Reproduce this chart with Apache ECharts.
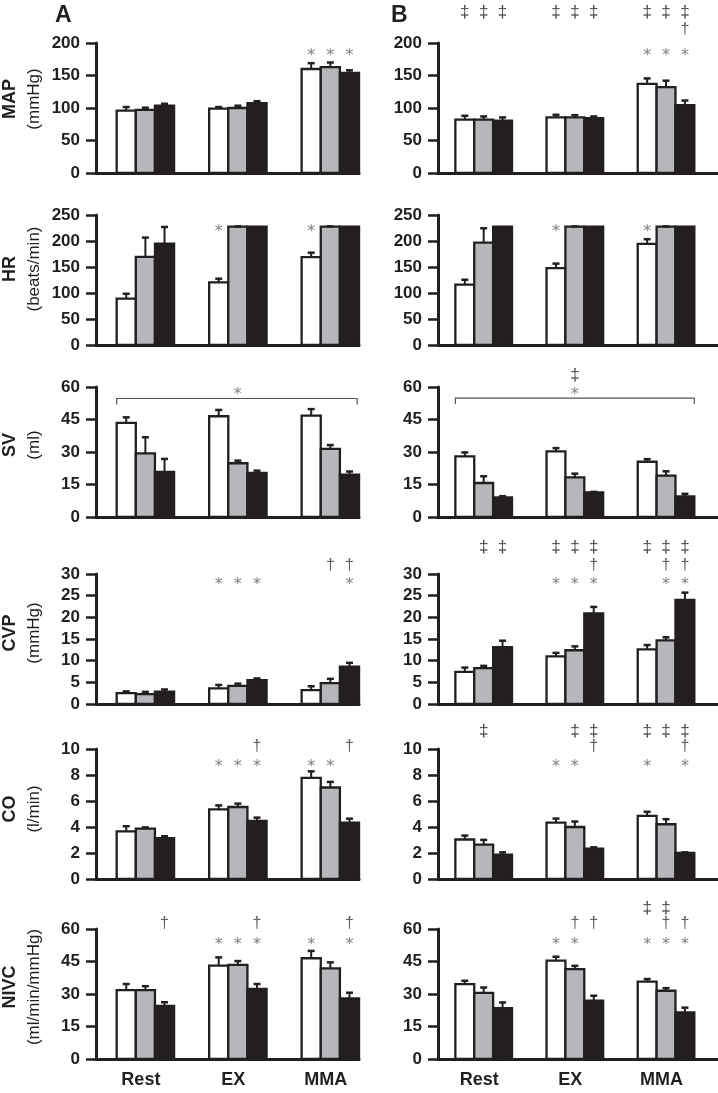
<!DOCTYPE html>
<html>
<head>
<meta charset="utf-8">
<script src="https://cdn.jsdelivr.net/npm/echarts@6/dist/echarts.min.js"></script>
<style>
  html, body { margin: 0; background: #fff; }
  #chart { width: 718px; height: 1093px; }
</style>
</head>
<body>
<div id="chart"></div>
<script>
// groups on the x axis
const categories = ['Rest', 'EX', 'MMA'];

// each table: [white, gray, black] x [Rest, EX, MMA]
const MAP_A_mean = [[96, 99, 160], [97, 100, 163], [103.5, 107.5, 154]];
const MAP_A_err = [[5.5, 2.5, 9], [3.5, 3.5, 7], [3, 3, 4]];
const MAP_A_sig = [['', '', '*'], ['', '', '*'], ['', '', '*']];
const MAP_B_mean = [[82, 85.5, 137], [82, 85.5, 132], [80.5, 84.5, 104.5]];
const MAP_B_err = [[6, 4, 8.5], [5, 3.5, 10], [5, 2.5, 7]];
const MAP_B_sig = [['‡', '‡', '*‡'], ['‡', '‡', '*‡'], ['‡', '‡', '*†‡']];

const HR_A_mean = [[89, 120.5, 169], [169.5, 227.5, 227.5], [195, 227.5, 227.5]];
const HR_A_err = [[9.5, 7, 8.5], [37, 0.5, 0.5], [32, 0, 0]];
const HR_A_sig = [['', '*', '*'], ['', '', ''], ['', '', '']];
const HR_B_mean = [[116, 148, 194.5], [197, 227.5, 227.5], [227.5, 227.5, 227.5]];
const HR_B_err = [[9.5, 8.5, 9], [27.5, 0.5, 0.5], [0, 0, 0]];
const HR_B_sig = [['', '*', '*'], ['', '', ''], ['', '', '']];

const SV_A_mean = [[43.4, 46.5, 46.8], [29.4, 24.8, 31.4], [20.8, 20.3, 19.5]];
const SV_A_err = [[2.6, 2.9, 3], [7.4, 1.2, 1.8], [6, 1.1, 1.5]];
const SV_A_sig = [['', '', ''], ['', '', ''], ['', '', '']];
const SV_B_mean = [[28, 30.3, 25.5], [15.7, 18.3, 19.1], [9.1, 11.4, 9.5]];
const SV_B_err = [[1.8, 1.5, 1.2], [3.1, 1.7, 2], [0.5, 0.2, 1.2]];
const SV_B_sig = [['', '', ''], ['', '', ''], ['', '', '']];
// bracket over all bars: [from, to, level], with its marks
const SV_A_bracket = [-0.31, 2.29, 54.7];
const SV_A_bracketSig = '*';
const SV_B_bracket = [-0.31, 2.31, 54.9];
const SV_B_bracketSig = '*‡';

const CVP_A_mean = [[2.5, 3.6, 3.2], [2.3, 4.2, 4.8], [2.85, 5.5, 8.6]];
const CVP_A_err = [[0.4, 0.8, 0.9], [0.5, 0.5, 1], [0.5, 0.4, 0.9]];
const CVP_A_sig = [['', '*', ''], ['', '*', '†'], ['', '*', '*†']];
const CVP_B_mean = [[7.4, 11, 12.6], [8.3, 12.4, 14.7], [13.1, 20.9, 24]];
const CVP_B_err = [[1, 0.8, 1], [0.5, 0.9, 0.7], [1.5, 1.5, 1.7]];
const CVP_B_sig = [['', '*‡', '‡'], ['‡', '*‡', '*†‡'], ['‡', '*†‡', '*†‡']];

const CO_A_mean = [[3.66, 5.36, 7.78], [3.87, 5.54, 7.04], [3.14, 4.46, 4.33]];
const CO_A_err = [[0.4, 0.3, 0.5], [0.1, 0.26, 0.43], [0.15, 0.26, 0.31]];
const CO_A_sig = [['', '*', '*'], ['', '*', '*'], ['', '*†', '†']];
const CO_B_mean = [[3.04, 4.34, 4.86], [2.65, 4.0, 4.21], [1.87, 2.34, 2.0]];
const CO_B_err = [[0.3, 0.31, 0.31], [0.36, 0.42, 0.39], [0.18, 0.1, 0.05]];
const CO_B_sig = [['', '*', '*‡'], ['‡', '*‡', '‡'], ['', '†‡', '*†‡']];

const NIVC_A_mean = [[31.8, 43.1, 46.5], [31.8, 43.4, 41.8], [24.5, 32.3, 28]];
const NIVC_A_err = [[2.8, 3.8, 3.4], [1.8, 1.8, 2.8], [1.7, 2.3, 2.6]];
const NIVC_A_sig = [['', '*', '*'], ['', '*', ''], ['†', '*†', '*†']];
const NIVC_B_mean = [[34.6, 45.4, 35.7], [30.5, 41.5, 31.5], [23.5, 26.9, 21.5]];
const NIVC_B_err = [[1.5, 1.8, 1.2], [2.5, 1.5, 1.2], [2.6, 2.3, 2.2]];
const NIVC_B_sig = [['', '*', '*‡'], ['', '*†', '*†‡'], ['', '†', '*†']];

const INK = '#231f20';
const FILLS = ['#ffffff', '#b5b7ba', '#231f20'];
const MARK_COLOR = { '*': '#808080', '†': '#5e5e5e', '‡': '#444444' };
const MARK_SIZE = { '*': 16, '†': 16, '‡': 17 };
const FONT = '"Liberation Sans", Arial, sans-serif';
const BAR_W = 0.207;

// rows of the figure, top to bottom (offsets: mark centre in px from plot top)
const rows = [
  { name: 'MAP', unit: '(mmHg)', max: 200, step: 50, top: 43, shift: 9,
    A: [MAP_A_mean, MAP_A_err, MAP_A_sig], B: [MAP_B_mean, MAP_B_err, MAP_B_sig],
    offsets: { '*': 9.5, '†': -13, '‡': -31 } },
  { name: 'HR', unit: '(beats/min)', max: 250, step: 50, top: 215, shift: 11,
    A: [HR_A_mean, HR_A_err, HR_A_sig], B: [HR_B_mean, HR_B_err, HR_B_sig],
    offsets: { '*': 14, '†': -5, '‡': -20 } },
  { name: 'SV', unit: '(ml)', max: 60, step: 15, top: 387, shift: 7,
    A: [SV_A_mean, SV_A_err, SV_A_sig], B: [SV_B_mean, SV_B_err, SV_B_sig],
    bracket: { A: [SV_A_bracket, SV_A_bracketSig], B: [SV_B_bracket, SV_B_bracketSig] },
    offsets: { '*': 5, '†': -5, '‡': -12 } },
  { name: 'CVP', unit: '(mmHg)', max: 30, step: 5, top: 574, shift: 6,
    A: [CVP_A_mean, CVP_A_err, CVP_A_sig], B: [CVP_B_mean, CVP_B_err, CVP_B_sig],
    offsets: { '*': 7.5, '†': -8, '‡': -27 } },
  { name: 'CO', unit: '(l/min)', max: 10, step: 2, top: 749, shift: 5,
    A: [CO_A_mean, CO_A_err, CO_A_sig], B: [CO_B_mean, CO_B_err, CO_B_sig],
    offsets: { '*': 15, '†': -2, '‡': -18 } },
  { name: 'NIVC', unit: '(ml/min/mmHg)', max: 60, step: 15, top: 929, shift: 7,
    A: [NIVC_A_mean, NIVC_A_err, NIVC_A_sig], B: [NIVC_B_mean, NIVC_B_err, NIVC_B_sig],
    offsets: { '*': 13, '†': -5, '‡': -21 } }
];

const cols = {
  A: { left: 96, width: 263, min: -0.534, max: 2.31 },
  B: { left: 438, width: 280, min: -0.501, max: 2.57 }
};
const PLOT_H = 130;

function markText(m, x, y) {
  return {
    type: 'text', x: x, y: m === '*' ? y + 3 : y,
    style: {
      text: m, fill: MARK_COLOR[m], align: 'center', verticalAlign: 'middle',
      fontSize: MARK_SIZE[m], fontFamily: m === '*' ? '"DejaVu Sans", sans-serif' : FONT
    }
  };
}

function barRenderer(row, sig, s) {
  return function (params, api) {
    const c = api.value(0), v = api.value(1), e = api.value(2);
    const x = c + (s - 1) * BAR_W;
    const base = api.coord([x, 0]);
    const top = api.coord([x, v]);
    const cap = api.coord([x, v + e]);
    const w = api.size([BAR_W, 0])[0];
    const children = [{
      type: 'rect',
      shape: { x: top[0] - w / 2, y: top[1], width: w, height: base[1] - top[1] },
      style: { fill: FILLS[s], stroke: INK, lineWidth: 2.3 }
    }];
    if (e > 0) {
      children.push({ type: 'line', shape: { x1: top[0], y1: top[1], x2: cap[0], y2: cap[1] },
        style: { stroke: INK, lineWidth: 2 } });
      children.push({ type: 'line', shape: { x1: top[0] - 3.5, y1: cap[1], x2: top[0] + 3.5, y2: cap[1] },
        style: { stroke: INK, lineWidth: 2.5 } });
    }
    const yTop = api.coord([c, row.max])[1];
    for (const m of sig[s][params.dataIndex]) {
      children.push(markText(m, top[0], yTop + row.offsets[m]));
    }
    return { type: 'group', children: children };
  };
}

function bracketRenderer(row, marks) {
  return function (params, api) {
    const a = api.coord([api.value(0), api.value(2)]);
    const b = api.coord([api.value(1), api.value(2)]);
    const children = [{
      type: 'polyline',
      shape: { points: [[a[0], a[1] + 6], a, b, [b[0], b[1] + 6]] },
      style: { stroke: '#555', lineWidth: 1.2, fill: null }
    }];
    const mid = api.coord([1, row.max]);
    for (const m of marks) children.push(markText(m, mid[0], mid[1] + row.offsets[m]));
    return { type: 'group', children: children };
  };
}

const grid = [], xAxis = [], yAxis = [], series = [];
rows.forEach(function (row, r) {
  ['A', 'B'].forEach(function (k) {
    const col = cols[k];
    const gi = grid.length;
    const [mean, err, sig] = row[k];
    const last = r === rows.length - 1;
    grid.push({ left: col.left, top: row.top, width: col.width, height: PLOT_H });
    xAxis.push({
      type: 'value', gridIndex: gi, min: col.min, max: col.max,
      axisLine: { onZero: false, lineStyle: { color: INK, width: 3 } },
      axisTick: { show: false }, splitLine: { show: false },
      axisLabel: {
        show: last, customValues: [0, 1, 2],
        formatter: function (v) { return categories[Math.round(v)]; },
        fontSize: 18, fontWeight: 'bold', color: INK, fontFamily: FONT,
        margin: 12, padding: [0, 9, 0, 0]
      }
    });
    yAxis.push({
      type: 'value', gridIndex: gi, min: 0, max: row.max, interval: row.step,
      axisLine: { show: true, onZero: false, lineStyle: { color: INK, width: 3 } },
      axisTick: { show: true, length: 10, lineStyle: { color: INK, width: 2.5 } },
      splitLine: { show: false },
      axisLabel: { fontSize: 17, fontWeight: 'bold', color: INK, fontFamily: FONT, margin: 16 },
      name: k === 'A' ? '{b|' + row.name + '}\n{n|' + row.unit + '}' : '',
      nameLocation: 'middle', nameRotate: 90, nameGap: 50,
      nameTextStyle: {
        padding: [0, 0, 0, row.shift * 2],
        rich: {
          b: { fontSize: 18, fontWeight: 'bold', color: INK, fontFamily: FONT, lineHeight: 24 },
          n: { fontSize: 17, color: INK, fontFamily: FONT, lineHeight: 24 }
        }
      }
    });
    for (let s = 0; s < 3; s++) {
      series.push({
        type: 'custom', xAxisIndex: gi, yAxisIndex: gi, clip: false,
        encode: { x: 0, y: 1 },
        data: categories.map(function (_, i) { return [i, mean[s][i], err[s][i]]; }),
        renderItem: barRenderer(row, sig, s)
      });
    }
    if (row.bracket) {
      const [span, marks] = row.bracket[k];
      series.push({
        type: 'custom', xAxisIndex: gi, yAxisIndex: gi, clip: false,
        encode: { x: [0, 1], y: 2 },
        data: [span],
        renderItem: bracketRenderer(row, marks)
      });
    }
  });
});

const chart = echarts.init(document.getElementById('chart'), null, { renderer: 'canvas' });
chart.setOption({
  animation: false,
  backgroundColor: '#fff',
  grid: grid, xAxis: xAxis, yAxis: yAxis, series: series,
  graphic: [
    { type: 'text', left: 55, top: 4, style: { text: 'A', fontSize: 23, fontWeight: 'bold', fill: INK, fontFamily: FONT } },
    { type: 'text', left: 391, top: 4, style: { text: 'B', fontSize: 23, fontWeight: 'bold', fill: INK, fontFamily: FONT } }
  ]
});
</script>
</body>
</html>
